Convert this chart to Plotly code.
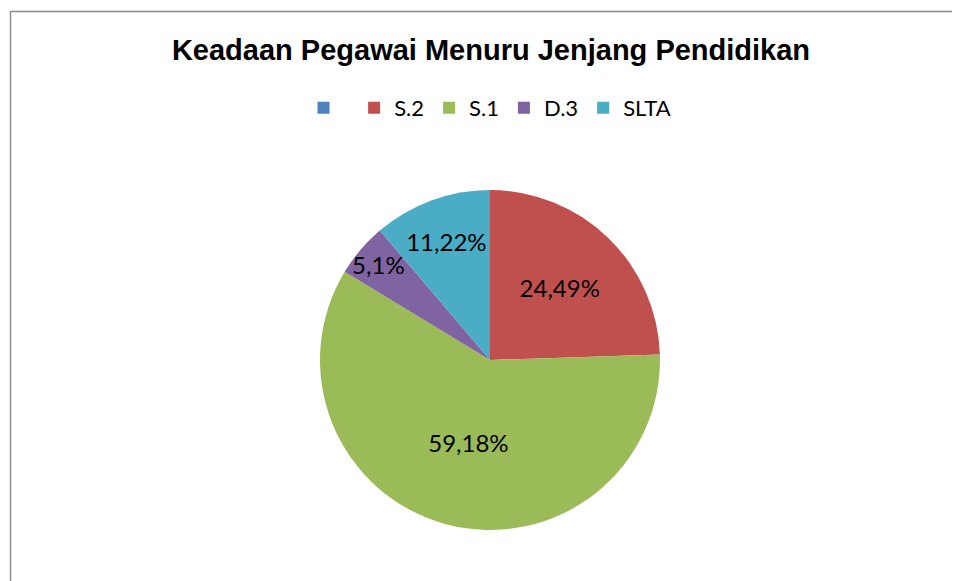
import plotly.graph_objects as go

# Data
categories = [" ", "S.2", "S.1", "D.3", "SLTA"]
percentages = [0, 24.49, 59.18, 5.1, 11.22]
pct_labels = ["", "24,49%", "59,18%", "5,1%", "11,22%"]
colors = ["#4F81BD", "#C0504D", "#9BBB59", "#8064A2", "#4BACC6"]

W, H = 960, 581
OFF = 8  # page body margin in the browser

fig = go.Figure()

fig.add_trace(go.Pie(
    labels=categories,
    values=percentages,
    text=pct_labels,
    textinfo="text",
    textposition="inside",
    insidetextorientation="horizontal",
    textfont=dict(family="Lato, Open Sans, sans-serif", size=24, color="black"),
    marker=dict(colors=colors, line=dict(width=0)),
    sort=False,
    direction="clockwise",
    rotation=0,
    domain=dict(x=[(320 - OFF) / W, (660 - OFF) / W],
                y=[1 - (530 - OFF) / H, 1 - (190 - OFF) / H]),
    showlegend=True,
))

fig.update_layout(
    width=W,
    height=H,
    margin=dict(l=0, r=0, t=0, b=0),
    paper_bgcolor="white",
    plot_bgcolor="white",
    title=dict(
        text="<b>Keadaan Pegawai Menuru Jenjang Pendidikan</b>",
        x=(491 - OFF) / W,
        xanchor="center",
        y=1 - (50 - OFF) / H,
        yanchor="middle",
        font=dict(family="Liberation Sans, Arial, sans-serif", size=29, color="black"),
    ),
    legend=dict(
        orientation="h",
        x=(490 - OFF) / W,
        xanchor="center",
        y=1 - (108 - OFF) / H,
        yanchor="middle",
        font=dict(family="Lato, Open Sans, sans-serif", size=22, color="black"),
        itemclick=False,
    ),
    uniformtext=dict(minsize=24, mode="show"),
    shapes=[
        dict(
            type="rect",
            xref="paper",
            yref="paper",
            x0=(10.5 - OFF) / W,
            x1=1.02,
            y0=-0.02,
            y1=1 - (11.5 - OFF) / H,
            line=dict(color="#8C8C8C", width=1.5),
            fillcolor="rgba(0,0,0,0)",
        )
    ],
)

fig.write_html("out.html")
